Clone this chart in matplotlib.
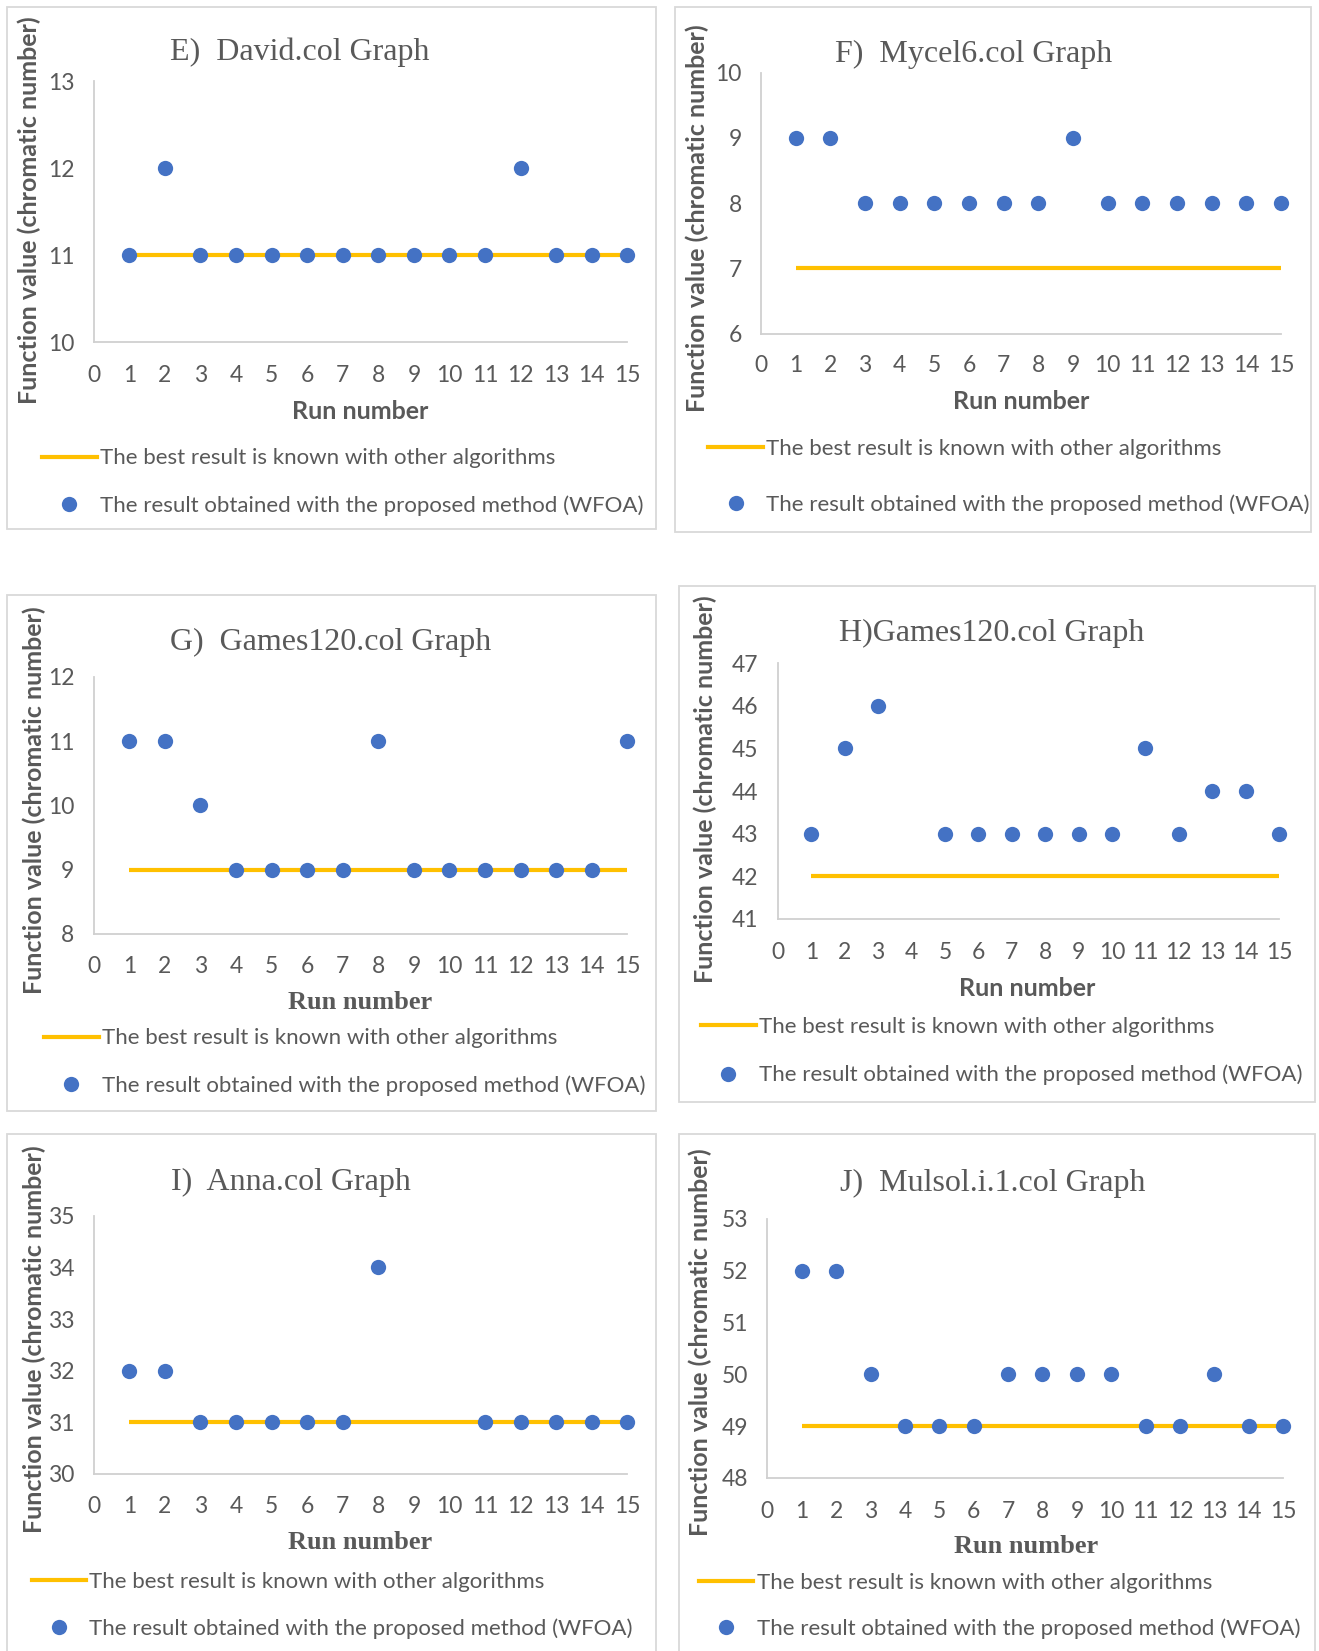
import numpy as np
import matplotlib
matplotlib.use("Agg")
import matplotlib.pyplot as plt
from matplotlib.lines import Line2D
from matplotlib.patches import Rectangle

# ---------------- data ----------------
runs = list(range(1, 16))
x_ticks = list(range(0, 16))

e_title = "E)  David.col Graph"
e_wfoa = [11, 12, 11, 11, 11, 11, 11, 11, 11, 11, 11, 12, 11, 11, 11]
e_best = [11] * 15
e_yticks = [10, 11, 12, 13]

f_title = "F)  Mycel6.col Graph"
f_wfoa = [9, 9, 8, 8, 8, 8, 8, 8, 9, 8, 8, 8, 8, 8, 8]
f_best = [7] * 15
f_yticks = [6, 7, 8, 9, 10]

g_title = "G)  Games120.col Graph"
g_wfoa = [11, 11, 10, 9, 9, 9, 9, 11, 9, 9, 9, 9, 9, 9, 11]
g_best = [9] * 15
g_yticks = [8, 9, 10, 11, 12]

h_title = "H)Games120.col Graph"
h_wfoa = [43, 45, 46, np.nan, 43, 43, 43, 43, 43, 43, 45, 43, 44, 44, 43]
h_best = [42] * 15
h_yticks = [41, 42, 43, 44, 45, 46, 47]

i_title = "I)  Anna.col Graph"
i_wfoa = [32, 32, 31, 31, 31, 31, 31, 34, np.nan, np.nan, 31, 31, 31, 31, 31]
i_best = [31] * 15
i_yticks = [30, 31, 32, 33, 34, 35]

j_title = "J)  Mulsol.i.1.col Graph"
j_wfoa = [52, 52, 50, 49, 49, 49, 50, 50, 50, 50, 49, 49, 50, 49, 49]
j_best = [49] * 15
j_yticks = [48, 49, 50, 51, 52, 53]

best_label = "The best result is known with other algorithms"
wfoa_label = "The result obtained with the proposed method (WFOA)"
ylabel = "Function value (chromatic number)"
xlabel = "Run number"

# ---------------- layout ----------------
W, H = 1319, 1651
S = W / 1253.0
fig = plt.figure(figsize=(W / 100, H / 100), dpi=100)
fig.patch.set_facecolor("white")

def fx(x):
    return x * S / W

def fy(y):
    return 1 - y * S / H

BLUE = "#4472C4"
GOLD = "#FFC000"
TXT = "#595959"
AXC = "#D0D0D0"
SANS = "Lato"
SERIF = "Liberation Serif"
TICK_FS = 16.5
LEG_FS = 16
MS = 11

panels = [
    dict(title=e_title, wfoa=e_wfoa, best=e_best, yt=e_yticks,
         box=(7, 7, 623, 503), ax=(89, 596, 325, 77), tpos=(285, 50),
         ylx=28, yly=200, ticky=355, xl=(342, 391), xlserif=False,
         leg=(40, 435, 481)),
    dict(title=f_title, wfoa=f_wfoa, best=f_best, yt=f_yticks,
         box=(641, 7, 1245, 505), ax=(723, 1217, 317, 69), tpos=(925, 52),
         ylx=662, yly=207, ticky=346, xl=(970, 381), xlserif=False,
         leg=(673, 426, 480)),
    dict(title=g_title, wfoa=g_wfoa, best=g_best, yt=g_yticks,
         box=(7, 565, 623, 1055), ax=(89, 596, 887, 643), tpos=(314, 610),
         ylx=33, yly=760, ticky=917, xl=(342, 952), xlserif=True,
         leg=(42, 986, 1032)),
    dict(title=h_title, wfoa=h_wfoa, best=h_best, yt=h_yticks,
         box=(645, 557, 1249, 1047), ax=(739, 1215, 873, 630), tpos=(942, 602),
         ylx=670, yly=750, ticky=903, xl=(976, 939), xlserif=False,
         leg=(666, 975, 1022)),
    dict(title=i_title, wfoa=i_wfoa, best=i_best, yt=i_yticks,
         box=(7, 1077, 623, 1575), ax=(89, 596, 1400, 1155), tpos=(276, 1123),
         ylx=33, yly=1272, ticky=1430, xl=(342, 1465), xlserif=True,
         leg=(30, 1502, 1548)),
    dict(title=j_title, wfoa=j_wfoa, best=j_best, yt=j_yticks,
         box=(645, 1077, 1249, 1575), ax=(729, 1219, 1404, 1158), tpos=(943, 1124),
         ylx=665, yly=1275, ticky=1434, xl=(975, 1469), xlserif=True,
         leg=(664, 1503, 1548)),
]

em_px = LEG_FS * 100 / 72.0

for p in panels:
    bx0, by0, bx1, by1 = p["box"]
    fig.patches.append(Rectangle((fx(bx0), fy(by1)), fx(bx1) - fx(bx0), fy(by0) - fy(by1),
                                 transform=fig.transFigure, fill=False,
                                 edgecolor="#D9D9D9", linewidth=1.3, zorder=0))
    x0, x1, yb, yt = p["ax"]
    ax = fig.add_axes([fx(x0), fy(yb), fx(x1) - fx(x0), fy(yt) - fy(yb)])
    ax.set_facecolor("none")
    ax.plot(runs, p["best"], color=GOLD, linewidth=3.0, solid_capstyle="butt", zorder=2,
            clip_on=False)
    ax.plot(runs, p["wfoa"], linestyle="none", marker="o", markersize=MS,
            markerfacecolor=BLUE, markeredgecolor=BLUE, markeredgewidth=0, zorder=3,
            clip_on=False)
    ax.set_xlim(0, 15)
    ax.set_ylim(p["yt"][0], p["yt"][-1])
    ax.set_xticks(x_ticks)
    ax.set_yticks(p["yt"])
    for sp in ["top", "right"]:
        ax.spines[sp].set_visible(False)
    for sp in ["left", "bottom"]:
        ax.spines[sp].set_color(AXC)
        ax.spines[sp].set_linewidth(1.3)
    xpad = ((p["ticky"] - yb) * S - 11) * 0.72 + 1.5
    ax.tick_params(axis="x", length=0, pad=xpad, labelsize=TICK_FS, labelcolor=TXT)
    ax.tick_params(axis="y", length=0, pad=14, labelsize=TICK_FS, labelcolor=TXT)
    for lab in ax.get_xticklabels() + ax.get_yticklabels():
        lab.set_fontfamily(SANS)

    fig.text(fx(p["tpos"][0]), fy(p["tpos"][1]), p["title"], ha="center", va="center",
             fontsize=23, family=SERIF, color=TXT)
    fig.text(fx(p["ylx"]), fy(p["yly"]), ylabel, rotation=90, ha="center", va="center",
             fontsize=18, fontweight="bold", family=SANS, color=TXT)
    if p["xlserif"]:
        fig.text(fx(p["xl"][0]), fy(p["xl"][1]), xlabel, ha="center", va="center",
                 fontsize=19, fontweight="bold", family=SERIF, color=TXT)
    else:
        fig.text(fx(p["xl"][0]), fy(p["xl"][1]), xlabel, ha="center", va="center",
                 fontsize=18, fontweight="bold", family=SANS, color=TXT)

    lx, ly1, ly2 = p["leg"]
    ls = ((ly2 - ly1) * S - 0.97 * em_px) / em_px
    h1 = Line2D([], [], color=GOLD, linewidth=3.0)
    h2 = Line2D([], [], linestyle="none", marker="o", markersize=MS,
                markerfacecolor=BLUE, markeredgewidth=0)
    leg = fig.legend([h1, h2], [best_label, wfoa_label], loc="center left",
                     bbox_to_anchor=(fx(lx), (fy(ly1) + fy(ly2)) / 2),
                     bbox_transform=fig.transFigure, frameon=False,
                     prop=dict(family=SANS, size=LEG_FS), handlelength=2.45,
                     handletextpad=0.15, labelspacing=ls, borderaxespad=0,
                     borderpad=0)
    for t in leg.get_texts():
        t.set_color(TXT)

fig.savefig("out.png", dpi=100, facecolor="white")
